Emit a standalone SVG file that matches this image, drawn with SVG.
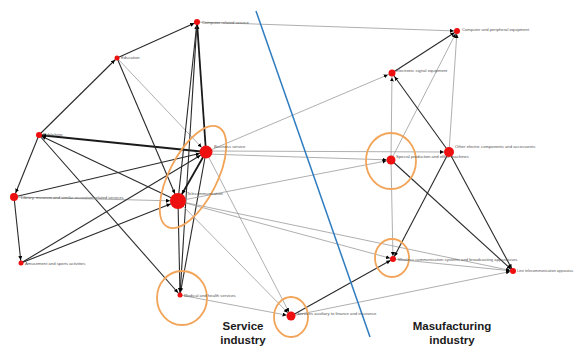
<svg xmlns="http://www.w3.org/2000/svg" width="578" height="347" viewBox="0 0 578 347">
<style>
.bg{fill:#ffffff}
.d{stroke:#2a2a2a;stroke-width:1.1;fill:none}
.dk{stroke:#1a1a1a;stroke-width:1.8;fill:none}
.g{stroke:#9a9a9a;stroke-width:0.8;fill:none}
.n{fill:#ee1010}
.lb{font-family:"Liberation Sans",Arial,sans-serif;font-size:4.2px;fill:#555}
.ring{fill:none;stroke:#f2a459;stroke-width:1.8}
.big{font-family:"Liberation Sans",Arial,sans-serif;font-size:11.5px;font-weight:bold;fill:#1a1a1a;text-anchor:middle}
</style>
<defs>
<marker id="a3" markerUnits="userSpaceOnUse" markerWidth="12" markerHeight="6" refX="7" refY="2" orient="auto"><path d="M0,0 L4,2 L0,4 z" fill="#000"/></marker>
<marker id="a4" markerUnits="userSpaceOnUse" markerWidth="14" markerHeight="6" refX="8.5" refY="2" orient="auto"><path d="M0,0 L4,2 L0,4 z" fill="#000"/></marker>
<marker id="a5" markerUnits="userSpaceOnUse" markerWidth="14" markerHeight="6" refX="9" refY="2" orient="auto"><path d="M0,0 L4,2 L0,4 z" fill="#000"/></marker>
<marker id="a6" markerUnits="userSpaceOnUse" markerWidth="16" markerHeight="6" refX="10.5" refY="2" orient="auto"><path d="M0,0 L4,2 L0,4 z" fill="#000"/></marker>
<marker id="a8" markerUnits="userSpaceOnUse" markerWidth="18" markerHeight="6" refX="12" refY="2" orient="auto"><path d="M0,0 L4,2 L0,4 z" fill="#000"/></marker>
</defs>
<rect class="bg" x="0" y="0" width="578" height="347"/>

<g id="edges">
<line class="d" x1="117" y1="58" x2="197" y2="22" marker-end="url(#a3)"/>
<line class="d" x1="39" y1="135" x2="117" y2="58" marker-end="url(#a3)"/>
<line class="d" x1="39" y1="135" x2="14" y2="197" marker-end="url(#a4)"/>
<line class="d" x1="14" y1="197" x2="21" y2="263" marker-end="url(#a3)"/>
<line class="dk" x1="206" y1="152" x2="39" y2="135" marker-end="url(#a3)"/>
<line class="d" x1="178" y1="201" x2="39" y2="135" marker-end="url(#a3)"/>
<line class="d" x1="39" y1="135" x2="180" y2="295" marker-end="url(#a3)"/>
<line class="d" x1="14" y1="197" x2="206" y2="152" marker-end="url(#a6)"/>
<line class="g" x1="14" y1="197" x2="178" y2="201" marker-end="url(#a8)"/>
<line class="d" x1="21" y1="263" x2="206" y2="152" marker-end="url(#a6)"/>
<line class="d" x1="21" y1="263" x2="178" y2="201" marker-end="url(#a8)"/>
<line class="d" x1="117" y1="58" x2="178" y2="201" marker-end="url(#a8)"/>
<line class="g" x1="117" y1="58" x2="206" y2="152" marker-end="url(#a6)"/>
<line class="dk" x1="206" y1="152" x2="197" y2="22" marker-end="url(#a3)"/>
<line class="d" x1="178" y1="201" x2="197" y2="22" marker-end="url(#a3)"/>
<line class="d" x1="180" y1="295" x2="197" y2="22"/>
<line class="dk" x1="206" y1="152" x2="178" y2="201" marker-end="url(#a8)"/>
<line class="d" x1="206" y1="152" x2="180" y2="295" marker-end="url(#a3)"/>
<line class="d" x1="178" y1="201" x2="180" y2="295" marker-end="url(#a3)"/>
<line class="g" x1="197" y1="22" x2="457" y2="31" marker-end="url(#a3)"/>
<line class="g" x1="206" y1="151" x2="449" y2="152" marker-end="url(#a5)"/>
<line class="g" x1="206" y1="154" x2="391" y2="160" marker-end="url(#a4)"/>
<line class="g" x1="206" y1="152" x2="392" y2="73" marker-end="url(#a4)"/>
<line class="g" x1="178" y1="201" x2="391" y2="160" marker-end="url(#a4)"/>
<line class="g" x1="178" y1="201" x2="393" y2="259" marker-end="url(#a3)"/>
<line class="g" x1="178" y1="201" x2="513" y2="271" marker-end="url(#a3)"/>
<line class="g" x1="178" y1="201" x2="291" y2="316" marker-end="url(#a4)"/>
<line class="g" x1="206" y1="152" x2="291" y2="316" marker-end="url(#a4)"/>
<line class="g" x1="180" y1="295" x2="291" y2="316" marker-end="url(#a4)"/>
<line class="d" x1="291" y1="316" x2="393" y2="259" marker-end="url(#a3)"/>
<line class="g" x1="291" y1="316" x2="513" y2="271" marker-end="url(#a3)"/>
<line class="d" x1="392" y1="73" x2="457" y2="31" marker-end="url(#a3)"/>
<line class="g" x1="391" y1="160" x2="457" y2="31" marker-end="url(#a3)"/>
<line class="g" x1="449" y1="152" x2="457" y2="31" marker-end="url(#a3)"/>
<line class="d" x1="449" y1="152" x2="392" y2="73" marker-end="url(#a4)"/>
<line class="g" x1="391" y1="160" x2="392" y2="73" marker-end="url(#a4)"/>
<line class="g" x1="391" y1="160" x2="393" y2="259" marker-end="url(#a3)"/>
<line class="d" x1="449" y1="152" x2="393" y2="259" marker-end="url(#a3)"/>
<line class="d" x1="391" y1="160" x2="513" y2="271" marker-end="url(#a3)"/>
<line class="d" x1="449" y1="152" x2="513" y2="271" marker-end="url(#a3)"/>
<line class="g" x1="393" y1="259" x2="513" y2="271" marker-end="url(#a3)"/>
</g>

<line id="divider" x1="256" y1="11" x2="370" y2="337" stroke="#2e7cc0" stroke-width="1.5"/>

<g id="rings">
<ellipse class="ring" cx="0" cy="0" rx="56" ry="24" transform="translate(193,177) rotate(117)"/>
<ellipse class="ring" cx="182" cy="298" rx="25" ry="27"/>
<ellipse class="ring" cx="391" cy="161" rx="25" ry="28"/>
<ellipse class="ring" cx="392" cy="258" rx="17" ry="19"/>
<ellipse class="ring" cx="291" cy="317" rx="17" ry="20"/>
</g>

<g id="n-cr"><circle class="n" cx="197" cy="22" r="3"/><text class="lb" x="202" y="23.5">Computer related service</text></g>
<g id="n-ed"><circle class="n" cx="117" cy="58" r="2.5"/><text class="lb" x="121" y="59">Education</text></g>
<g id="n-pu"><circle class="n" cx="39" cy="135" r="3"/><text class="lb" x="43" y="136">Publishing</text></g>
<g id="n-bs"><circle class="n" cx="206" cy="152" r="6.5"/><text class="lb" x="214" y="147.5">Business service</text></g>
<g id="n-li"><circle class="n" cx="14" cy="197" r="4"/><text class="lb" x="21" y="198.5">Library, museum and similar recreation related services</text></g>
<g id="n-tc"><circle class="n" cx="178" cy="201" r="8"/><text class="lb" x="187" y="195">Telecommunication</text></g>
<g id="n-am"><circle class="n" cx="21" cy="263" r="2.5"/><text class="lb" x="25" y="264.5">Amusement and sports activities</text></g>
<g id="n-me"><circle class="n" cx="180" cy="295" r="2.5"/><text class="lb" x="184" y="297">Medical and health services</text></g>
<g id="n-sa"><circle class="n" cx="291" cy="316" r="4.5"/><text class="lb" x="297" y="314.5">Services auxiliary to finance and insurance</text></g>
<g id="n-cp"><circle class="n" cx="457" cy="31" r="3"/><text class="lb" x="462" y="30.5">Computer and peripheral equipment</text></g>
<g id="n-es"><circle class="n" cx="392" cy="73" r="3.5"/><text class="lb" x="396" y="72">Electronic signal equipment</text></g>
<g id="n-sp"><circle class="n" cx="391" cy="160" r="4.5"/><text class="lb" x="396" y="158">Special production and office machines</text></g>
<g id="n-oe"><circle class="n" cx="449" cy="152" r="5"/><text class="lb" x="455" y="148">Other electric components and accessories</text></g>
<g id="n-ts"><circle class="n" cx="393" cy="259" r="3"/><text class="lb" x="398" y="260.5">Wireless communication systems and broadcasting apparatuses</text></g>
<g id="n-lt"><circle class="n" cx="513" cy="271" r="3"/><text class="lb" x="517" y="272" style="font-size:3.7px">Line telecommunication apparatus</text></g>

<g id="titles">
<text class="big" x="243" y="330">Service</text>
<text class="big" x="243" y="344">industry</text>
<text class="big" x="452" y="330">Masufacturing</text>
<text class="big" x="452" y="344">industry</text>
</g>
</svg>
